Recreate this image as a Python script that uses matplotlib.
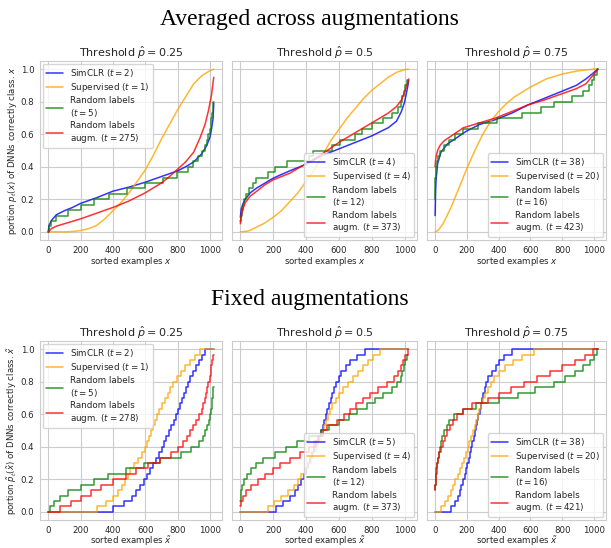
import matplotlib
matplotlib.use("Agg")
import matplotlib.pyplot as plt
import seaborn as sns

sns.set_style("whitegrid")
plt.rcParams['font.family'] = ['DejaVu Sans']

N_LAST = 1023
STEP = 1 / 30

thresholds = ["0.25", "0.5", "0.75"]

# ---------- top row: averaged across augmentations ----------
# smooth curves: (x, y)
t25_simclr_x = [0, 5, 20, 50, 100, 150, 200, 300, 400, 500, 600, 700, 800, 850, 900, 950, 980, 1000, 1010, 1020, 1024]
t25_simclr_y = [0.0, 0.04, 0.07, 0.105, 0.13, 0.15, 0.175, 0.21, 0.25, 0.275, 0.305, 0.34, 0.375, 0.40, 0.43, 0.48, 0.53, 0.58, 0.63, 0.70, 0.79]
t25_sup_x = [0, 100, 150, 200, 250, 300, 350, 400, 450, 500, 550, 600, 650, 700, 750, 800, 850, 900, 950, 1000, 1024]
t25_sup_y = [0, 0, 0.002, 0.008, 0.02, 0.04, 0.08, 0.13, 0.18, 0.24, 0.31, 0.38, 0.47, 0.57, 0.66, 0.75, 0.83, 0.91, 0.96, 0.99, 1.0]
t25_aug_x = [0, 20, 50, 100, 200, 300, 400, 500, 600, 700, 750, 800, 850, 900, 940, 970, 990, 1000, 1010, 1020, 1024]
t25_aug_y = [0, 0.02, 0.035, 0.05, 0.08, 0.115, 0.15, 0.19, 0.24, 0.30, 0.34, 0.385, 0.43, 0.49, 0.58, 0.66, 0.74, 0.79, 0.84, 0.92, 0.95]
# step curve: first level (in 1/30) and x where each next level starts
t25_rand_k0 = 0
t25_rand_steps = [5, 20, 50, 122, 204, 286, 378, 486, 596, 710, 796, 867, 898, 929, 953, 969, 980, 990,
                  998, 1005, 1010, 1015, 1020, 1022]

t5_simclr_x = [0, 5, 15, 30, 60, 100, 150, 200, 300, 400, 500, 600, 700, 800, 900, 950, 980, 1000, 1010, 1020, 1024]
t5_simclr_y = [0.09, 0.14, 0.17, 0.2, 0.24, 0.27, 0.3, 0.33, 0.375, 0.415, 0.47, 0.51, 0.55, 0.59, 0.64, 0.68, 0.74, 0.80, 0.85, 0.9, 0.93]
t5_sup_x = [0, 50, 100, 150, 200, 250, 300, 350, 400, 450, 500, 550, 600, 650, 700, 750, 800, 850, 900, 950, 1000, 1024]
t5_sup_y = [0, 0.005, 0.03, 0.055, 0.09, 0.13, 0.185, 0.24, 0.31, 0.38, 0.47, 0.56, 0.63, 0.70, 0.76, 0.82, 0.87, 0.91, 0.95, 0.98, 0.997, 1.0]
t5_aug_x = [0, 5, 15, 30, 60, 100, 150, 200, 300, 400, 500, 600, 700, 800, 900, 950, 980, 1000, 1010, 1020, 1024]
t5_aug_y = [0.05, 0.1, 0.14, 0.18, 0.22, 0.25, 0.29, 0.32, 0.36, 0.42, 0.48, 0.55, 0.61, 0.67, 0.73, 0.77, 0.81, 0.86, 0.89, 0.92, 0.94]
t5_rand_k0 = 2
t5_rand_steps = [5, 12, 17, 22, 35, 55, 78, 98, 170, 210, 282, 420, 440, 560, 608, 700, 739, 800, 869,
                 920, 961, 975, 985, 995, 1005, 1015]

t75_simclr_x = [0, 3, 6, 16, 37, 77, 138, 199, 280, 381, 483, 584, 686, 787, 888, 949, 1000, 1024]
t75_simclr_y = [0.1, 0.25, 0.32, 0.42, 0.49, 0.54, 0.58, 0.62, 0.66, 0.69, 0.73, 0.78, 0.82, 0.86, 0.90, 0.94, 0.98, 1.0]
t75_sup_x = [0, 20, 50, 100, 150, 200, 250, 300, 350, 400, 450, 500, 600, 700, 800, 900, 1000, 1024]
t75_sup_y = [0, 0.01, 0.05, 0.15, 0.27, 0.39, 0.5, 0.6, 0.68, 0.74, 0.79, 0.83, 0.89, 0.94, 0.97, 0.99, 1.0, 1.0]
t75_aug_x = [0, 3, 8, 16, 30, 57, 118, 178, 280, 381, 483, 584, 686, 787, 888, 949, 1000, 1024]
t75_aug_y = [0.4, 0.44, 0.47, 0.5, 0.53, 0.56, 0.6, 0.64, 0.67, 0.70, 0.74, 0.78, 0.81, 0.845, 0.88, 0.91, 0.97, 1.0]
t75_rand_k0 = 6
t75_rand_steps = [1, 1, 2, 2, 3, 6, 12, 20, 32, 57, 87, 128, 178, 270, 391, 544, 665, 746, 858, 929,
                  970, 990, 1002, 1020]

top_t = [(2, 1, 5, 275), (4, 4, 12, 373), (38, 20, 16, 423)]

# ---------- bottom row: fixed augmentations (all step curves) ----------
f25_simclr_k0 = 0
f25_simclr_steps = [402, 470, 520, 545, 565, 590, 610, 628, 647, 665, 683, 701, 716, 731, 747, 762, 778, 793,
                    805, 817, 829, 841, 852, 864, 880, 897, 915, 933, 952, 972]
f25_sup_k0 = 0
f25_sup_steps = [301, 360, 400, 430, 455, 475, 492, 508, 531, 554, 577, 600, 612, 624, 636, 648, 660, 671,
                 688, 705, 722, 739, 756, 772, 795, 820, 845, 875, 905, 939]
f25_rand_k0 = 0
f25_rand_steps = [10, 37, 71, 122, 203, 285, 370, 484, 593, 691, 823, 884, 931, 955, 972, 985, 995, 1003,
                  1008, 1012, 1015, 1018, 1021]
f25_aug_k0 = 0
f25_aug_steps = [71, 142, 203, 264, 325, 400, 480, 540, 620, 690, 760, 805, 835, 860, 880, 898, 915, 932,
                 950, 960, 968, 975, 982, 990, 1000, 1005, 1010, 1015, 1020]

f5_simclr_k0 = 0
f5_simclr_steps = [219, 258, 300, 330, 350, 368, 385, 400, 413, 426, 438, 450, 462, 475, 488, 500, 510, 520,
                   530, 540, 550, 560, 572, 585, 600, 615, 640, 670, 710, 757]
f5_sup_k0 = 0
f5_sup_steps = [168, 205, 250, 290, 325, 352, 372, 392, 410, 428, 445, 460, 475, 490, 500, 510, 520, 532,
                545, 560, 580, 600, 625, 655, 685, 715, 745, 775, 805, 848]
f5_rand_k0 = 2
f5_rand_steps = [3, 6, 12, 25, 40, 65, 95, 140, 210, 275, 345, 420, 490, 540, 600, 660, 710, 770, 820,
                 870, 920, 955, 975, 985, 995, 1003, 1012]
f5_aug_k0 = 1
f5_aug_steps = [5, 14, 35, 65, 105, 150, 200, 240, 300, 365, 420, 450, 480, 505, 530, 590, 630, 670, 705,
                745, 790, 840, 890, 935, 960, 978, 992, 1005, 1018]

f75_simclr_k0 = 0
f75_simclr_steps = [97, 125, 142, 155, 165, 175, 185, 195, 203, 212, 220, 226, 234, 242, 250, 257, 265, 272,
                    280, 287, 295, 303, 312, 322, 335, 355, 380, 405, 435, 483]
f75_sup_k0 = 0
f75_sup_steps = [37, 62, 82, 97, 113, 128, 143, 155, 168, 180, 192, 204, 215, 226, 237, 248, 258, 268, 278,
                 290, 302, 316, 332, 350, 372, 400, 440, 490, 545, 625]
f75_rand_k0 = 4
f75_rand_steps = [2, 4, 6, 9, 12, 16, 22, 28, 35, 45, 57, 72, 90, 120, 178, 260, 400, 520, 630, 750, 820,
                  880, 930, 975, 1000, 1018]
f75_aug_k0 = 4
f75_aug_steps = [1, 3, 5, 8, 12, 18, 25, 35, 47, 60, 75, 92, 110, 135, 175, 230, 330, 400, 480, 560, 640,
                 720, 800, 880, 940, 995]

bottom_t = [(2, 1, 5, 278), (5, 4, 12, 373), (38, 20, 16, 421)]

colors = ["blue", "orange", "green", "red"]
legend_loc = ["upper left", "lower right", "lower right"]


def step_xy(k0, steps):
    xs = [0] + list(steps) + [N_LAST]
    ys = [(k0 + i) * STEP for i in range(len(steps) + 1)]
    ys.append(ys[-1])
    return xs, ys


def labels(t):
    return ["SimCLR ($t=%d$)" % t[0], "Supervised ($t=%d$)" % t[1],
            "Random labels\n($t=%d$)" % t[2], "Random labels\naugm. ($t=%d$)" % t[3]]


def style_axes(ax, i, title, xlabel, ylabel):
    ax.set_xlim(-51, 1075)
    ax.set_ylim(-0.05, 1.05)
    ax.set_xticks([0, 200, 400, 600, 800, 1000])
    ax.set_yticks([0.0, 0.2, 0.4, 0.6, 0.8, 1.0])
    ax.tick_params(labelsize=6.2, pad=0.6)
    ax.set_title("Threshold $\\hat{p}=%s$" % title, fontsize=8, pad=3)
    ax.set_xlabel(xlabel, fontsize=6.2, labelpad=0)
    if i == 0:
        ax.set_ylabel(ylabel, fontsize=6.2, labelpad=1)
    else:
        ax.tick_params(labelleft=False)


def add_legend(ax, loc):
    ax.legend(loc=loc, fontsize=6.3, borderaxespad=0.3, handlelength=2.0,
              labelspacing=0.25, borderpad=0.35)


fig = plt.figure(figsize=(6.11, 5.48), dpi=100)
W, H = 611, 548
lefts = [40, 232, 427]
rights = [222, 417, 606]

top_smooth = [
    [(t25_simclr_x, t25_simclr_y), (t25_sup_x, t25_sup_y), (t25_aug_x, t25_aug_y)],
    [(t5_simclr_x, t5_simclr_y), (t5_sup_x, t5_sup_y), (t5_aug_x, t5_aug_y)],
    [(t75_simclr_x, t75_simclr_y), (t75_sup_x, t75_sup_y), (t75_aug_x, t75_aug_y)],
]
top_steps = [(t25_rand_k0, t25_rand_steps), (t5_rand_k0, t5_rand_steps), (t75_rand_k0, t75_rand_steps)]

bottom_steps = [
    [(f25_simclr_k0, f25_simclr_steps), (f25_sup_k0, f25_sup_steps), (f25_rand_k0, f25_rand_steps), (f25_aug_k0, f25_aug_steps)],
    [(f5_simclr_k0, f5_simclr_steps), (f5_sup_k0, f5_sup_steps), (f5_rand_k0, f5_rand_steps), (f5_aug_k0, f5_aug_steps)],
    [(f75_simclr_k0, f75_simclr_steps), (f75_sup_k0, f75_sup_steps), (f75_rand_k0, f75_rand_steps), (f75_aug_k0, f75_aug_steps)],
]

for i in range(3):
    # top row
    ax = fig.add_axes([lefts[i] / W, 1 - 240 / H, (rights[i] - lefts[i]) / W, (240 - 61) / H])
    lab = labels(top_t[i])
    (sx, sy), (ox, oy), (ax_, ay) = top_smooth[i]
    ax.plot(sx, sy, color=colors[0], lw=1.1, alpha=0.8, label=lab[0])
    ax.plot(ox, oy, color=colors[1], lw=1.1, alpha=0.8, label=lab[1])
    gx, gy = step_xy(*top_steps[i])
    ax.step(gx, gy, where="post", color=colors[2], lw=1.1, alpha=0.8, label=lab[2])
    ax.plot(ax_, ay, color=colors[3], lw=1.1, alpha=0.8, label=lab[3])
    style_axes(ax, i, thresholds[i], "sorted examples $x$",
               "portion $p_t(x)$ of DNNs correctly class. $x$")
    add_legend(ax, legend_loc[i])

    # bottom row
    ax = fig.add_axes([lefts[i] / W, 1 - 520 / H, (rights[i] - lefts[i]) / W, (520 - 341) / H])
    lab = labels(bottom_t[i])
    for c, (k0, st), l in zip(colors, bottom_steps[i], lab):
        xs, ys = step_xy(k0, st)
        ax.step(xs, ys, where="post", color=c, lw=1.1, alpha=0.8, label=l)
    style_axes(ax, i, thresholds[i], "sorted examples $\\tilde{x}$",
               "portion $\\tilde{p}_t(\\tilde{x})$ of DNNs correctly class. $\\tilde{x}$")
    add_legend(ax, legend_loc[i])

fig.text(0.507, 1 - 25 / H, "Averaged across augmentations", family="Liberation Serif",
         fontsize=17, ha="center", va="baseline", color="black")
fig.text(0.507, 1 - 305 / H, "Fixed augmentations", family="Liberation Serif",
         fontsize=17, ha="center", va="baseline", color="black")

fig.savefig("out.png", dpi=100)
